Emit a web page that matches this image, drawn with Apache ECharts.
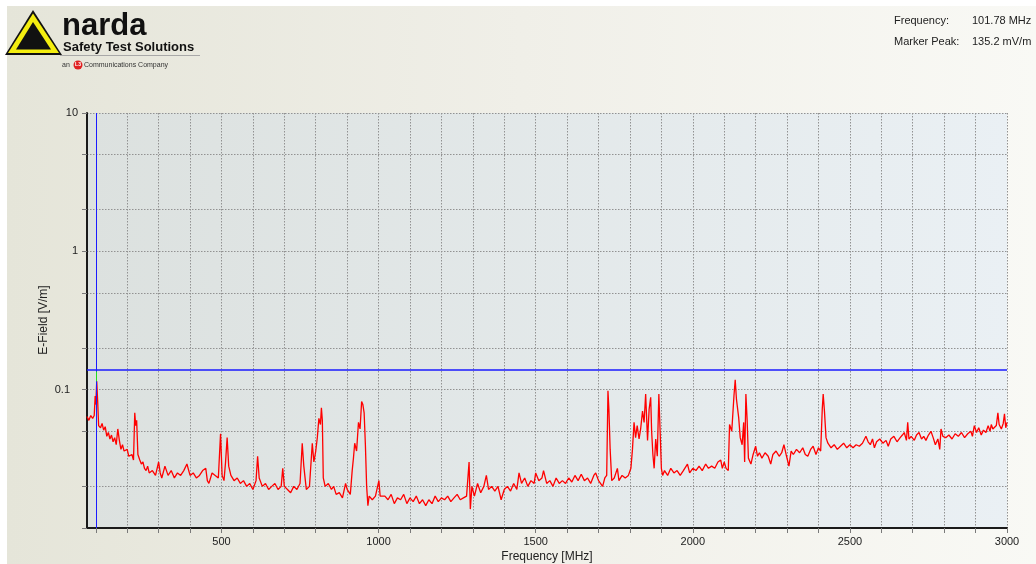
<!DOCTYPE html>
<html>
<head>
<meta charset="utf-8">
<script src="https://cdn.jsdelivr.net/npm/echarts@6/dist/echarts.min.js"></script>
<style>
  html, body { margin: 0; padding: 0; background: #ffffff; }
  #chart { width: 1036px; height: 564px; }
</style>
</head>
<body>
<div id="chart"></div>
<script>
// ---- data ----
const freqMHz = [
  72, 78, 84, 90, 95, 98, 100, 103, 106, 109,
  115, 120, 125, 130, 135, 140, 145, 150, 155, 160,
  165, 170, 175, 180, 185, 190, 195, 200, 205, 210,
  215, 220, 224, 227, 230, 234, 240, 245, 250, 255,
  260, 265, 270, 280, 290, 300, 305, 310, 320, 330,
  340, 350, 360, 370, 380, 390, 400, 410, 420, 430,
  440, 450, 455, 460, 470, 480, 490, 497, 502, 508,
  513, 518, 523, 530, 540, 550, 560, 570, 580, 590,
  600, 610, 615, 620, 630, 640, 650, 660, 670, 680,
  690, 695, 700, 710, 720, 730, 740, 750, 757, 762,
  770, 780, 789, 794, 800, 805, 810, 815, 818, 821,
  824, 830, 840, 850, 857, 865, 875, 885, 895, 900,
  910, 916, 920, 924, 930, 936, 941, 946, 950, 954,
  958, 962, 966, 970, 980, 990, 1001, 1005, 1010, 1020,
  1030, 1040, 1050, 1060, 1070, 1080, 1090, 1100, 1110, 1120,
  1130, 1140, 1150, 1160, 1170, 1180, 1190, 1200, 1210, 1220,
  1230, 1240, 1250, 1260, 1270, 1280, 1288, 1292, 1297, 1305,
  1315, 1325, 1335, 1343, 1350, 1360, 1370, 1380, 1390, 1400,
  1410, 1420, 1430, 1440, 1447, 1455, 1465, 1475, 1485, 1495,
  1500, 1510, 1520, 1525, 1535, 1545, 1555, 1565, 1575, 1585,
  1595, 1605, 1615, 1625, 1635, 1645, 1655, 1665, 1675, 1685,
  1691, 1700, 1713, 1720, 1726, 1730, 1733, 1737, 1742, 1750,
  1760, 1765, 1775, 1785, 1795, 1803, 1808, 1813, 1818, 1823,
  1829, 1834, 1840, 1845, 1850, 1856, 1861, 1866, 1869, 1873,
  1877, 1882, 1887, 1892, 1896, 1900, 1904, 1910, 1920, 1930,
  1940, 1950, 1960, 1970, 1983, 1990, 2000, 2010, 2020, 2030,
  2041, 2050, 2060, 2070, 2080, 2089, 2094, 2100, 2106, 2113,
  2117, 2124, 2131, 2135, 2139, 2146, 2151, 2157, 2162, 2165,
  2169, 2173, 2177, 2185, 2192, 2200, 2206, 2212, 2220, 2230,
  2240, 2248, 2255, 2265, 2275, 2283, 2290, 2297, 2306, 2313,
  2320, 2330, 2340, 2350, 2358, 2366, 2375, 2383, 2392, 2400,
  2407, 2412, 2415, 2419, 2424, 2430, 2440, 2450, 2460, 2470,
  2480, 2490, 2500, 2510, 2520, 2530, 2540, 2551, 2558, 2565,
  2572, 2578, 2585, 2595, 2605, 2615, 2622, 2630, 2640, 2650,
  2660, 2667, 2673, 2680, 2684, 2688, 2695, 2705, 2712, 2720,
  2728, 2735, 2742, 2750, 2758, 2765, 2772, 2780, 2786, 2790,
  2796, 2805, 2815, 2825, 2835, 2845, 2855, 2865, 2875, 2885,
  2890, 2896, 2903, 2910, 2918, 2925, 2933, 2940, 2946, 2950,
  2955, 2960, 2966, 2971, 2975, 2982, 2988, 2992, 2996, 3000
];
const fieldVm = [
  0.064, 0.060, 0.065, 0.062, 0.065, 0.090, 0.078, 0.115, 0.082, 0.055,
  0.053, 0.057, 0.051, 0.054, 0.046, 0.049, 0.044, 0.047, 0.042, 0.045,
  0.040, 0.052, 0.043, 0.037, 0.040, 0.036, 0.035, 0.037, 0.033, 0.032,
  0.034, 0.031, 0.068, 0.055, 0.060, 0.034, 0.031, 0.029, 0.030, 0.027,
  0.026, 0.028, 0.025, 0.026, 0.024, 0.030, 0.025, 0.023, 0.028, 0.024,
  0.026, 0.023, 0.025, 0.024, 0.026, 0.029, 0.024, 0.025, 0.023, 0.024,
  0.026, 0.027, 0.022, 0.021, 0.025, 0.024, 0.023, 0.048, 0.024, 0.022,
  0.030, 0.045, 0.028, 0.024, 0.022, 0.023, 0.021, 0.022, 0.020, 0.021,
  0.019, 0.022, 0.033, 0.023, 0.020, 0.021, 0.019, 0.020, 0.021, 0.019,
  0.020, 0.027, 0.020, 0.019, 0.018, 0.020, 0.019, 0.021, 0.041, 0.028,
  0.019, 0.020, 0.041, 0.030, 0.036, 0.045, 0.062, 0.056, 0.074, 0.060,
  0.023, 0.020, 0.021, 0.019, 0.020, 0.0175, 0.018, 0.0165, 0.021, 0.019,
  0.0175, 0.026, 0.032, 0.041, 0.036, 0.058, 0.052, 0.082, 0.078, 0.068,
  0.040, 0.020, 0.0145, 0.017, 0.016, 0.017, 0.022, 0.017, 0.0165, 0.017,
  0.016, 0.0175, 0.015, 0.0165, 0.016, 0.0175, 0.015, 0.0165, 0.0155, 0.017,
  0.015, 0.016, 0.0145, 0.016, 0.015, 0.017, 0.0155, 0.0165, 0.016, 0.017,
  0.0155, 0.0165, 0.0175, 0.016, 0.0165, 0.017, 0.030, 0.0137, 0.020, 0.017,
  0.021, 0.018, 0.020, 0.024, 0.019, 0.020, 0.0185, 0.020, 0.016, 0.019,
  0.020, 0.0185, 0.021, 0.019, 0.025, 0.021, 0.023, 0.020, 0.022, 0.021,
  0.025, 0.022, 0.023, 0.026, 0.021, 0.022, 0.020, 0.023, 0.021, 0.022,
  0.021, 0.023, 0.0215, 0.024, 0.022, 0.0245, 0.022, 0.023, 0.021, 0.024,
  0.025, 0.022, 0.020, 0.023, 0.024, 0.098, 0.072, 0.037, 0.022, 0.023,
  0.027, 0.022, 0.024, 0.023, 0.024, 0.027, 0.037, 0.058, 0.045, 0.055,
  0.044, 0.052, 0.070, 0.058, 0.093, 0.043, 0.072, 0.088, 0.050, 0.034,
  0.027, 0.044, 0.033, 0.093, 0.050, 0.027, 0.024, 0.026, 0.024, 0.027,
  0.025, 0.026, 0.024, 0.026, 0.029, 0.025, 0.027, 0.026, 0.028, 0.026,
  0.029, 0.027, 0.028, 0.027, 0.030, 0.031, 0.027, 0.030, 0.027, 0.026,
  0.056, 0.050, 0.090, 0.118, 0.085, 0.063, 0.045, 0.040, 0.058, 0.030,
  0.093, 0.060, 0.032, 0.029, 0.034, 0.039, 0.033, 0.035, 0.032, 0.035,
  0.033, 0.029, 0.034, 0.036, 0.033, 0.035, 0.040, 0.034, 0.028, 0.036,
  0.034, 0.037, 0.035, 0.038, 0.034, 0.033, 0.037, 0.039, 0.034, 0.038,
  0.036, 0.072, 0.093, 0.070, 0.045, 0.041, 0.038, 0.040, 0.037, 0.039,
  0.041, 0.038, 0.040, 0.038, 0.040, 0.039, 0.041, 0.046, 0.042, 0.040,
  0.044, 0.038, 0.042, 0.044, 0.041, 0.043, 0.039, 0.044, 0.046, 0.042,
  0.045, 0.047, 0.049, 0.043, 0.058, 0.044, 0.046, 0.043, 0.047, 0.049,
  0.044, 0.046, 0.043, 0.047, 0.050, 0.045, 0.040, 0.044, 0.037, 0.052,
  0.046, 0.045, 0.047, 0.044, 0.048, 0.046, 0.049, 0.045, 0.048, 0.050,
  0.046, 0.055, 0.049, 0.053, 0.047, 0.051, 0.049, 0.055, 0.050, 0.056,
  0.052, 0.051, 0.055, 0.068, 0.056, 0.052, 0.057, 0.067, 0.053, 0.058
];
// marker
const markerFreqMHz = 101.78;
const markerPeakVm = 0.1352;
const traceAtMarkerVm = 0.115;
const markerTextLabels = ['Frequency:', 'Marker Peak:'];
const markerTextValues = ['101.78 MHz', '135.2 mV/m'];
// axes
const xRange = [72, 3000];
const xLabelStep = 500;
const yRange = [0.01, 10];
const yTickValues = [0.01, 0.02, 0.05, 0.1, 0.2, 0.5, 1, 2, 5, 10];
const yLabelValues = [0.1, 1, 10];
const xAxisTitle = 'Frequency [MHz]';
const yAxisTitle = 'E-Field [V/m]';

const trace = freqMHz.map((f, i) => [f, fieldVm[i]]);

const FONT = 'Liberation Sans, Arial, sans-serif';
const chart = echarts.init(document.getElementById('chart'), null, { renderer: 'canvas' });

const option = {
  animation: false,
  backgroundColor: '#ffffff',
  grid: {
    left: 87, top: 113, right: 29, bottom: 36,
    show: true,
    borderWidth: 0,
    backgroundColor: {
      type: 'linear', x: 0, y: 0, x2: 1, y2: 0,
      colorStops: [{ offset: 0, color: '#dce1df' }, { offset: 1, color: '#eaf0f4' }]
    }
  },
  graphic: [
    // page background
    { type: 'rect', z: -10, silent: true, shape: { x: 7, y: 6, width: 1029, height: 558 },
      style: { fill: { type: 'linear', x: 0, y: 0, x2: 1, y2: 0,
        colorStops: [{ offset: 0, color: '#e5e5d9' }, { offset: 0.5, color: '#f0efe8' }, { offset: 1, color: '#f9f9f5' }] } } },
    // logo triangle
    { type: 'polygon', z: 10, silent: true, shape: { points: [[33, 10], [5, 55], [62, 55]] }, style: { fill: '#111111' } },
    { type: 'polygon', z: 10, silent: true, shape: { points: [[33, 13.5], [8, 53], [59, 53]] }, style: { fill: '#f4ee10' } },
    { type: 'polygon', z: 10, silent: true, shape: { points: [[33, 22], [16, 49.5], [51, 49.5]] }, style: { fill: '#111111' } },
    { type: 'text', z: 10, silent: true, x: 62, y: 26.5, style: { text: 'narda', font: 'bold 31px ' + FONT, fill: '#111', verticalAlign: 'middle' } },
    { type: 'text', z: 10, silent: true, x: 63, y: 47, style: { text: 'Safety Test Solutions', font: 'bold 13px ' + FONT, fill: '#111', verticalAlign: 'middle' } },
    { type: 'line', z: 10, silent: true, shape: { x1: 60, y1: 55.5, x2: 200, y2: 55.5 }, style: { stroke: '#a8a8a8', lineWidth: 1 } },
    { type: 'text', z: 10, silent: true, x: 62, y: 65, style: { text: 'an', font: '7px ' + FONT, fill: '#333', verticalAlign: 'middle' } },
    { type: 'circle', z: 10, silent: true, shape: { cx: 78, cy: 65, r: 4.5 }, style: { fill: '#e02020' } },
    { type: 'text', z: 11, silent: true, x: 78, y: 65, style: { text: 'L3', font: 'bold 5px ' + FONT, fill: '#fff', align: 'center', verticalAlign: 'middle' } },
    { type: 'text', z: 10, silent: true, x: 84, y: 65, style: { text: 'Communications Company', font: '7px ' + FONT, fill: '#333', verticalAlign: 'middle' } },
    // marker readout
    { type: 'text', z: 10, silent: true, x: 894, y: 21, style: { text: markerTextLabels[0], font: '11px ' + FONT, fill: '#222', verticalAlign: 'middle' } },
    { type: 'text', z: 10, silent: true, x: 972, y: 21, style: { text: markerTextValues[0], font: '11px ' + FONT, fill: '#222', verticalAlign: 'middle' } },
    { type: 'text', z: 10, silent: true, x: 894, y: 42, style: { text: markerTextLabels[1], font: '11px ' + FONT, fill: '#222', verticalAlign: 'middle' } },
    { type: 'text', z: 10, silent: true, x: 972, y: 42, style: { text: markerTextValues[1], font: '11px ' + FONT, fill: '#222', verticalAlign: 'middle' } },
    // axis titles
    { type: 'text', z: 10, silent: true, x: 44, y: 320, rotation: Math.PI / 2,
      style: { text: yAxisTitle, font: '12px ' + FONT, fill: '#222', align: 'center', verticalAlign: 'middle' } },
    { type: 'text', z: 10, silent: true, x: 547, y: 557,
      style: { text: xAxisTitle, font: '12px ' + FONT, fill: '#222', align: 'center', verticalAlign: 'middle' } }
  ],
  xAxis: {
    type: 'value',
    min: xRange[0], max: xRange[1],
    splitNumber: 30, minInterval: 100, maxInterval: 100,
    axisLine: { show: true, onZero: false, lineStyle: { color: '#1a1a1a', width: 2 } },
    axisTick: { show: true, length: 5, lineStyle: { color: '#7a7a7a' } },
    axisLabel: {
      show: true, interval: 0, margin: 8, showMinLabel: false,
      fontFamily: FONT, fontSize: 11, color: '#222',
      formatter: v => (v > 0 && v % xLabelStep === 0) ? String(v) : ''
    },
    splitLine: { show: true, lineStyle: { color: '#929292', type: [1.5, 1.5], width: 1 } }
  },
  yAxis: {
    type: 'log', logBase: 10,
    min: yRange[0], max: yRange[1],
    axisLine: { show: true, onZero: false, lineStyle: { color: '#1a1a1a', width: 2 } },
    axisTick: { show: true, length: 5, customValues: yTickValues, lineStyle: { color: '#7a7a7a' } },
    axisLabel: {
      show: true, margin: 9, customValues: yLabelValues,
      fontFamily: FONT, fontSize: 11, color: '#222',
      formatter: v => v < 1 ? '{p|' + v + '}' : String(v),
      rich: { p: { fontFamily: FONT, fontSize: 11, color: '#222', padding: [0, 8, 0, 0] } }
    },
    splitLine: { show: true, lineStyle: { color: '#929292', type: [1.5, 1.5], width: 1 } }
  },
  series: [{
    type: 'line',
    data: trace,
    showSymbol: false,
    symbol: 'none',
    sampling: false,
    lineStyle: { color: '#ff0000', width: 1.3 },
    z: 3,
    markLine: {
      silent: true,
      symbol: 'none',
      label: { show: false },
      animation: false,
      data: [
        { xAxis: markerFreqMHz, lineStyle: { color: '#1a1aff', width: 1, type: 'solid' } },
        { yAxis: markerPeakVm, lineStyle: { color: '#1a1aff', width: 1.5, type: 'solid' } },
        [ { coord: [markerFreqMHz, traceAtMarkerVm], lineStyle: { color: '#22dd22', width: 1, type: 'solid' } },
          { coord: [markerFreqMHz, markerPeakVm] } ]
      ]
    }
  }]
};
chart.setOption(option);
</script>
</body>
</html>
